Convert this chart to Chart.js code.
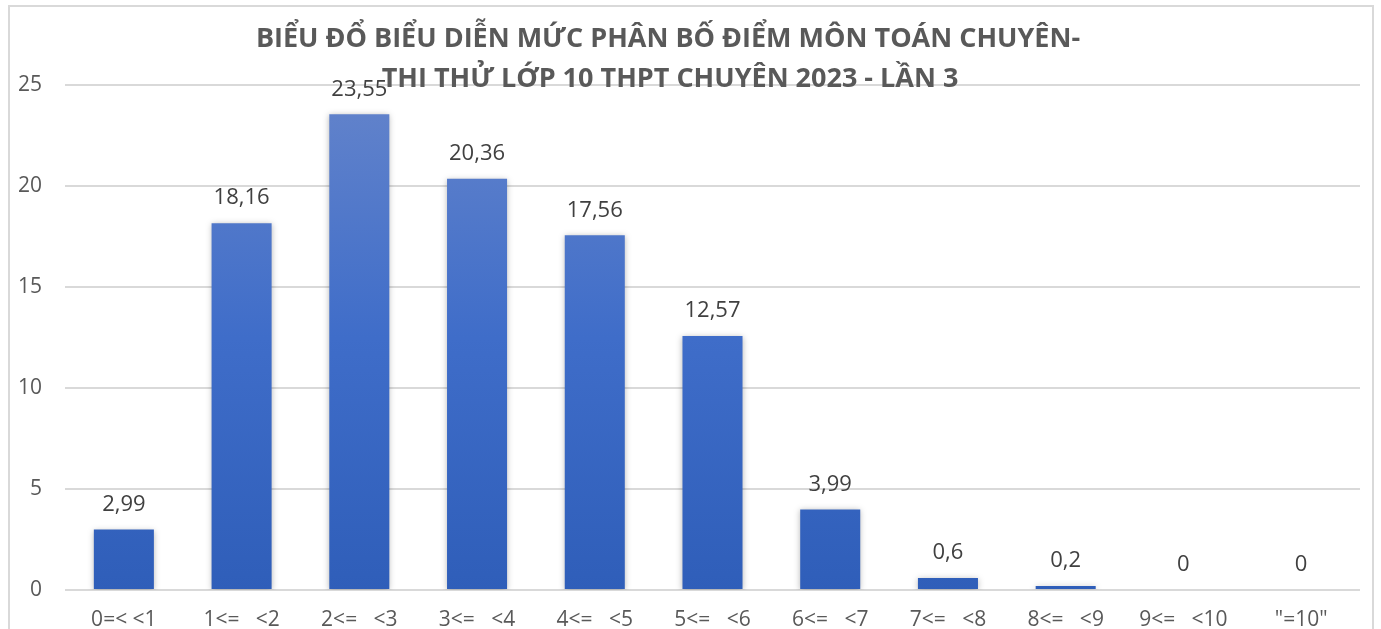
<!DOCTYPE html>
<html>
<head>
<meta charset="utf-8">
<script src="https://cdn.jsdelivr.net/npm/chart.js@4.4.1/dist/chart.umd.min.js"></script>
<style>
html,body{margin:0;padding:0;background:#fff;overflow:hidden;}
#wrap{position:absolute;left:0;top:0;width:1381px;height:629px;}
#frame{position:absolute;left:8px;top:5px;width:1362px;height:640px;border:2px solid #d9d9d9;pointer-events:none;}
canvas{position:absolute;left:0;top:0;}
</style>
</head>
<body>
<div id="wrap"><canvas id="c" width="1381" height="629"></canvas><div id="frame"></div></div>
<script>
const categories = ['0=< <1', '1<=   <2', '2<=   <3', '3<=   <4', '4<=   <5', '5<=   <6', '6<=   <7', '7<=   <8', '8<=   <9', '9<=   <10', '"=10"'];
const values = [2.99, 18.16, 23.55, 20.36, 17.56, 12.57, 3.99, 0.6, 0.2, 0, 0];
const yTicks = [0, 5, 10, 15, 20, 25];
const titleLines = ['BIỂU ĐỔ BIỂU DIỄN MỨC PHÂN BỐ ĐIỂM MÔN TOÁN CHUYÊN-', 'THI THỬ LỚP 10 THPT CHUYÊN 2023 - LẦN 3'];

const FONT = "'Open Sans', sans-serif";

function barGradient(ctx) {
  const chart = ctx.chart;
  const el = ctx.element;
  const area = chart.chartArea;
  if (!area) return '#4472c4';
  let top = area.top, bottom = area.bottom;
  if (el && el.y !== undefined && el.base !== undefined) {
    top = Math.min(el.y, el.base); bottom = Math.max(el.y, el.base);
    if (bottom - top < 1) bottom = top + 1;
  }
  const g = chart.ctx.createLinearGradient(0, top, 0, bottom);
  g.addColorStop(0, '#6484cb');
  g.addColorStop(0.5, '#3f6dc9');
  g.addColorStop(1, '#2f5eb9');
  return g;
}

const valueLabels = {
  id: 'valueLabels',
  afterDatasetsDraw(chart) {
    const ctx = chart.ctx;
    const meta = chart.getDatasetMeta(0);
    ctx.save();
    ctx.font = '22px ' + FONT;
    ctx.fillStyle = '#404040';
    ctx.textAlign = 'center';
    ctx.textBaseline = 'middle';
    meta.data.forEach((bar, i) => {
      const txt = String(values[i]).replace('.', ',');
      ctx.fillText(txt, bar.x, bar.y - 25);
    });
    ctx.restore();
  }
};

const manualTitle = {
  id: 'manualTitle',
  afterDraw(chart) {
    const ctx = chart.ctx;
    ctx.save();
    ctx.font = 'bold 27px ' + FONT;
    ctx.fillStyle = '#595959';
    ctx.textAlign = 'center';
    ctx.textBaseline = 'alphabetic';
    ctx.fillText(titleLines[0], 668, 47);
    ctx.fillText(titleLines[1], 670, 87);
    ctx.restore();
  }
};

const barShadow = {
  id: 'barShadow',
  beforeDatasetsDraw(chart) {
    chart.ctx.save();
    chart.ctx.shadowColor = 'rgba(0,0,0,0.28)';
    chart.ctx.shadowBlur = 6;
    chart.ctx.shadowOffsetX = 0;
    chart.ctx.shadowOffsetY = 1;
  },
  afterDatasetsDraw(chart) {
    chart.ctx.restore();
  }
};

new Chart(document.getElementById('c'), {
  type: 'bar',
  data: {
    labels: categories,
    datasets: [{
      data: values,
      backgroundColor: barGradient,
      borderWidth: 0,
      barPercentage: 0.51,
      categoryPercentage: 1.0
    }]
  },
  options: {
    responsive: false,
    animation: false,
    events: [],
    layout: { padding: { top: 85, left: 18, right: 21, bottom: 0 } },
    plugins: {
      legend: { display: false },
      title: { display: false },
      tooltip: { enabled: false }
    },
    scales: {
      x: {
        grid: { display: false, drawTicks: false },
        border: { display: false },
        afterFit(scale) { scale.height = 39; scale.paddingLeft = 0; scale.paddingRight = 0; },
        ticks: { color: '#595959', font: { family: FONT, size: 21 }, padding: 17, maxRotation: 0, autoSkip: false }
      },
      y: {
        min: 0, max: 25,
        afterBuildTicks(scale) { scale.ticks = yTicks.map(v => ({ value: v })); },
        afterFit(scale) { scale.width = 47; },
        grid: { color: '#d9d9d9', lineWidth: 2, drawTicks: false },
        border: { display: false },
        ticks: { color: '#595959', font: { family: FONT, size: 21 }, padding: 23 }
      }
    }
  },
  plugins: [barShadow, valueLabels, manualTitle]
});
</script>
</body>
</html>
